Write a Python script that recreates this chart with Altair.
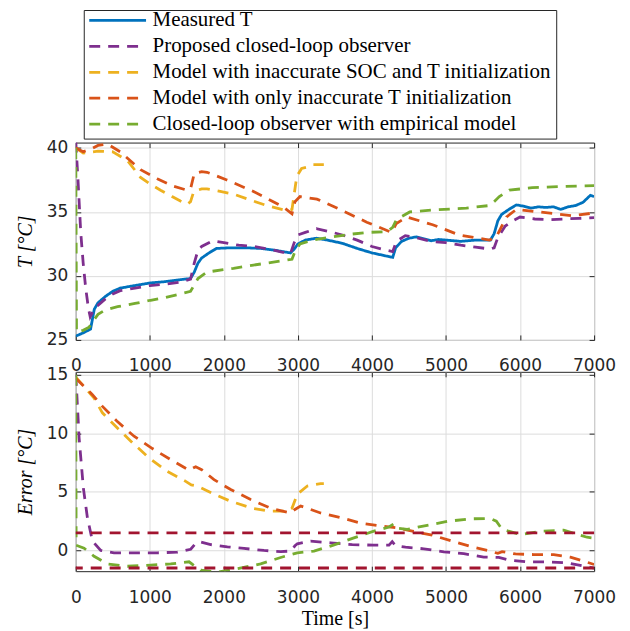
import altair as alt
import pandas as pd

SERIES = [
    "Measured T",
    "Proposed closed-loop observer",
    "Model with inaccurate SOC and T initialization",
    "Model with only inaccurate T initialization",
    "Closed-loop observer with empirical model",
]
COLORS = ["#0072BD", "#7E2F8E", "#EDB120", "#D95319", "#77AC30"]
DASHES = [[1, 0], [11, 8], [11, 8], [11, 8], [11, 8]]
BOUND_COLOR = "#A2142F"

X_TICKS = [0, 1000, 2000, 3000, 4000, 5000, 6000, 7000]
T_TICKS = [25, 30, 35, 40]
E_TICKS = [0, 5, 10, 15]
BOUNDS = [1.5, -1.5]

# ---------------- top panel: temperature [degC] ----------------
meas_t = [0, 100, 200, 250, 300, 400, 500, 600, 800, 1000, 1200, 1400, 1550, 1600, 1650,
          1700, 1800, 1900, 2100, 2300, 2500, 2700, 2900, 2950, 3000, 3100, 3250, 3400,
          3600, 3800, 4000, 4200, 4280, 4320, 4400, 4500, 4600, 4700, 4800, 4900, 5000,
          5200, 5400, 5600, 5650, 5700, 5750, 5850, 5950, 6050, 6150, 6250, 6350, 6450,
          6550, 6650, 6750, 6850, 6950, 7000]
meas_v = [25.3, 25.55, 25.85, 27.4, 27.9, 28.4, 28.8, 29.05, 29.25, 29.45, 29.55, 29.7,
          29.8, 30.3, 31.0, 31.4, 31.8, 32.15, 32.2, 32.2, 32.15, 32.0, 31.8, 32.1, 32.5,
          32.8, 32.95, 32.8, 32.55, 32.15, 31.8, 31.55, 31.45, 32.2, 32.7, 32.95, 33.05,
          32.9, 32.75, 32.85, 32.8, 32.7, 32.8, 32.8, 33.3, 34.3, 34.8, 35.2, 35.55,
          35.45, 35.3, 35.4, 35.35, 35.4, 35.2, 35.4, 35.5, 35.75, 36.3, 36.2]

obs_t = [0, 30, 67, 100, 135, 170, 195, 230, 270, 300, 400, 500, 600, 800, 1000, 1200,
         1400, 1550, 1600, 1650, 1700, 1850, 2000, 2200, 2400, 2600, 2800, 2900, 2950,
         3000, 3100, 3250, 3400, 3600, 3800, 4000, 4200, 4280, 4330, 4450, 4600, 4800,
         5000, 5200, 5400, 5600, 5650, 5700, 5800, 5900, 6000, 6200, 6400, 6600, 6800, 7000]
obs_v = [40.5, 37.5, 33.4, 31.0, 29.0, 27.5, 26.8, 27.2, 27.6, 27.7, 28.2, 28.6, 28.85,
         29.05, 29.25, 29.35, 29.5, 29.75, 31.0, 32.0, 32.3, 32.75, 32.6, 32.4, 32.3,
         32.1, 31.85, 31.75, 32.6, 33.2, 33.4, 33.7, 33.5, 33.2, 32.8, 32.3, 32.0, 31.9,
         32.7, 33.15, 33.0, 32.7, 32.6, 32.4, 32.25, 32.1, 32.2, 33.0, 33.9, 34.3, 34.6,
         34.45, 34.4, 34.45, 34.5, 34.55]

soc_t = [0, 100, 300, 500, 700, 875, 1000, 1145, 1300, 1413, 1503, 1550, 1593, 1700,
         1772, 1950, 2130, 2350, 2580, 2850, 2920, 2985, 3050, 3120, 3200, 3350]
soc_v = [40.0, 39.6, 39.75, 39.7, 39.0, 37.7, 37.2, 36.7, 36.2, 35.85, 35.6, 35.8, 36.6,
         36.8, 36.8, 36.6, 36.4, 35.95, 35.5, 35.1, 35.2, 37.8, 38.4, 38.5, 38.7, 38.7]

tin_t = [0, 100, 200, 300, 430, 600, 875, 1100, 1323, 1503, 1550, 1600, 1700, 1772, 2040,
         2400, 2600, 2800, 2920, 2960, 3028, 3257, 3567, 3930, 4265, 4330, 4470, 4820,
         5180, 5585, 5680, 5815, 5950, 6260, 6490, 6700, 6970, 7000]
tin_v = [40.0, 39.7, 39.9, 40.2, 40.3, 39.7, 38.3, 37.6, 37.0, 36.7, 36.8, 38.0, 38.15,
         38.1, 37.5, 36.6, 36.0, 35.4, 34.85, 35.8, 36.2, 36.0, 35.2, 34.2, 33.4, 34.1,
         34.6, 34.0, 33.2, 32.8, 33.05, 34.6, 35.2, 35.0, 34.85, 34.7, 34.9, 34.9]

emp_t = [0, 10, 100, 180, 250, 300, 400, 565, 800, 1010, 1200, 1413, 1550, 1600, 1650,
         1772, 2000, 2130, 2400, 2580, 2920, 2960, 3028, 3200, 3470, 3700, 3930, 4200,
         4280, 4330, 4510, 4820, 5275, 5585, 5650, 5720, 5855, 6165, 6620, 7000]
emp_v = [40.0, 25.6, 25.75, 26.0, 26.6, 27.0, 27.35, 27.6, 27.85, 28.1, 28.3, 28.6, 28.8,
         29.3, 29.8, 30.3, 30.5, 30.6, 30.85, 31.0, 31.3, 31.9, 32.5, 32.8, 33.05, 33.25,
         33.4, 33.45, 33.8, 34.4, 35.0, 35.15, 35.3, 35.5, 35.8, 36.2, 36.7, 36.9, 37.0,
         37.05]

# ---------------- bottom panel: error [degC] ----------------
obs_et = [0, 45, 103, 157, 225, 337, 517, 832, 1102, 1372, 1552, 1620, 1665, 1822, 2047,
          2272, 2542, 2767, 2902, 2960, 2992, 3172, 3441, 3734, 4026, 4230, 4274, 4320,
          4453, 4700, 4970, 5240, 5510, 5713, 5870, 6095, 6365, 6635, 6860, 7000]
obs_ev = [15.0, 9.6, 5.3, 2.8, 0.8, 0.0, -0.2, -0.2, -0.2, -0.15, 0.1, 0.6, 0.75, 0.5, 0.3,
          0.17, 0.0, -0.1, -0.05, 0.4, 0.57, 0.8, 0.65, 0.5, 0.45, 0.45, 0.75, 0.4, 0.28,
          0.14, -0.12, -0.28, -0.57, -0.6, -0.85, -0.97, -0.97, -1.05, -1.34, -1.5]

soc_et = [0, 247, 360, 562, 765, 990, 1237, 1485, 1560, 1642, 1867, 2092, 2384, 2632, 2857,
          2920, 2992, 3127, 3306, 3350]
soc_ev = [14.8, 13.0, 11.75, 10.45, 9.2, 7.9, 6.75, 5.9, 5.6, 5.5, 4.8, 4.2, 3.6, 3.35,
          3.35, 3.6, 4.8, 5.5, 5.7, 5.7]

tin_et = [0, 225, 360, 562, 787, 1035, 1282, 1530, 1620, 1700, 1867, 2092, 2362, 2632, 2902,
          2960, 3037, 3306, 3576, 3869, 4139, 4341, 4544, 4814, 5083, 5353, 5601, 5700,
          5758, 5938, 6185, 6455, 6680, 6927, 7000]
tin_ev = [14.7, 13.3, 12.3, 11.0, 9.75, 8.7, 7.75, 6.85, 7.15, 6.9, 6.05, 5.2, 4.35, 3.6,
          3.2, 3.5, 3.8, 3.2, 2.8, 2.3, 2.07, 1.93, 1.65, 1.3, 0.8, 0.3, -0.06, -0.25, -0.1,
          -0.3, -0.35, -0.35, -0.57, -1.05, -1.2]

emp_et = [0, 5, 112, 247, 427, 697, 1012, 1282, 1530, 1600, 1687, 1912, 2182, 2497, 2767,
          2992, 3217, 3441, 3756, 4026, 4230, 4296, 4340, 4476, 4746, 5038, 5331, 5601,
          5680, 5758, 6005, 6298, 6590, 6905, 7000]
emp_ev = [15.0, 0.45, 0.2, -0.5, -1.15, -1.35, -1.25, -1.15, -0.97, -1.3, -1.68, -1.85,
          -1.55, -1.15, -0.6, -0.2, -0.05, 0.37, 1.07, 1.65, 2.0, 2.27, 1.9, 1.8, 2.15, 2.5,
          2.7, 2.73, 2.5, 1.8, 1.35, 1.65, 1.73, 1.13, 1.05]


def long_frame(pairs):
    rows = []
    for name, ts, vs in pairs:
        for i, (t, v) in enumerate(zip(ts, vs)):
            rows.append({"t": t, "v": v, "s": name, "i": i})
    return pd.DataFrame(rows)


df_top = long_frame([
    (SERIES[0], meas_t, meas_v),
    (SERIES[1], obs_t, obs_v),
    (SERIES[2], soc_t, soc_v),
    (SERIES[3], tin_t, tin_v),
    (SERIES[4], emp_t, emp_v),
])
df_bot = long_frame([
    (SERIES[1], obs_et, obs_ev),
    (SERIES[2], soc_et, soc_ev),
    (SERIES[3], tin_et, tin_ev),
    (SERIES[4], emp_et, emp_ev),
])
df_bounds = pd.DataFrame({"b": BOUNDS})

W = 520
H_TOP, H_BOT = 198, 200
SW = 2.8
INK = "#262626"

x_scale = alt.Scale(domain=[0, 7000], nice=False, zero=False)
yt_scale = alt.Scale(domain=[25, 40.42], nice=False, zero=False)
ye_scale = alt.Scale(domain=[-1.77, 15.25], nice=False, zero=False)

color_scale = alt.Scale(domain=SERIES, range=COLORS)
dash_scale = alt.Scale(domain=SERIES, range=DASHES)

legend = alt.Legend(
    title=None, orient="none", legendX=8, legendY=-133,
    symbolType="stroke", symbolSize=3249, symbolStrokeWidth=SW,
    labelFont="Liberation Serif", labelFontSize=21, labelColor="black",
    labelOffset=5, labelLimit=0, padding=4, rowPadding=4, clipHeight=13,
    strokeColor=INK, fillColor="white",
)


def x_main(pad, title=None):
    kw = dict(orient="bottom", values=X_TICKS, format="d", offset=-5, tickSize=5,
              domain=False, grid=True, labelPadding=pad, labelFlush=False)
    if title:
        kw.update(title=title, titleFontStyle="normal", titleBaseline="alphabetic",
                  titleY=58)
    else:
        kw.update(title=None)
    return alt.X("t:Q", scale=x_scale, axis=alt.Axis(**kw))


def y_main(scale, ticks, title):
    return alt.Y("v:Q", scale=scale, axis=alt.Axis(
        orient="left", values=ticks, offset=-5, tickSize=5, domain=False, grid=True,
        labelPadding=8, labelFlush=False, title=title, titleFontStyle="italic",
        titleX=-55, titleBaseline="middle"))


def frame_ticks(df, scale, ticks):
    return alt.Chart(df).mark_point(opacity=0, clip=True, size=1).encode(
        x=alt.X("t:Q", scale=x_scale, axis=alt.Axis(
            orient="top", values=X_TICKS, offset=-5, tickSize=5, domain=False,
            grid=False, labels=False, title=None)),
        y=alt.Y("v:Q", scale=scale, axis=alt.Axis(
            orient="right", values=ticks, offset=-5, tickSize=5, domain=False,
            grid=False, labels=False, title=None)),
    )


top_lines = alt.Chart(df_top).mark_line(strokeWidth=SW, clip=True).encode(
    x=x_main(18),
    y=y_main(yt_scale, T_TICKS, "T [°C]"),
    color=alt.Color("s:N", scale=color_scale, legend=legend),
    strokeDash=alt.StrokeDash("s:N", scale=dash_scale, legend=legend),
    order="i:Q",
)
top = alt.layer(top_lines, frame_ticks(df_top, yt_scale, T_TICKS)).properties(
    width=W, height=H_TOP)

bounds = alt.Chart(df_bounds).mark_rule(
    color=BOUND_COLOR, strokeDash=[11, 8], strokeWidth=SW
).encode(y=alt.Y("b:Q", scale=ye_scale, axis=None))

bot_lines = alt.Chart(df_bot).mark_line(strokeWidth=SW, clip=True).encode(
    x=x_main(18, "Time [s]"),
    y=y_main(ye_scale, E_TICKS, "Error [°C]"),
    color=alt.Color("s:N", scale=color_scale, legend=None),
    strokeDash=alt.StrokeDash("s:N", scale=dash_scale, legend=None),
    order="i:Q",
)
bottom = alt.layer(bot_lines, bounds, frame_ticks(df_bot, ye_scale, E_TICKS)).properties(
    width=W, height=H_BOT)

chart = alt.vconcat(top, bottom, spacing=32, bounds="flush").resolve_scale(
    color="independent", strokeDash="independent"
).properties(
    padding={"left": 7, "top": 0, "right": 5, "bottom": 0}
).configure_axis(
    labelFont="DejaVu Sans", labelFontSize=17, labelColor=INK,
    tickColor=INK, tickWidth=1, gridColor="#dcdcdc", gridOpacity=1, gridWidth=1,
    titleFont="Liberation Serif", titleFontSize=20, titleColor="black",
    titleFontWeight="normal",
).configure_view(stroke=INK, strokeWidth=1)

chart.save("out.html", embed_options={"renderer": "svg", "actions": False})
